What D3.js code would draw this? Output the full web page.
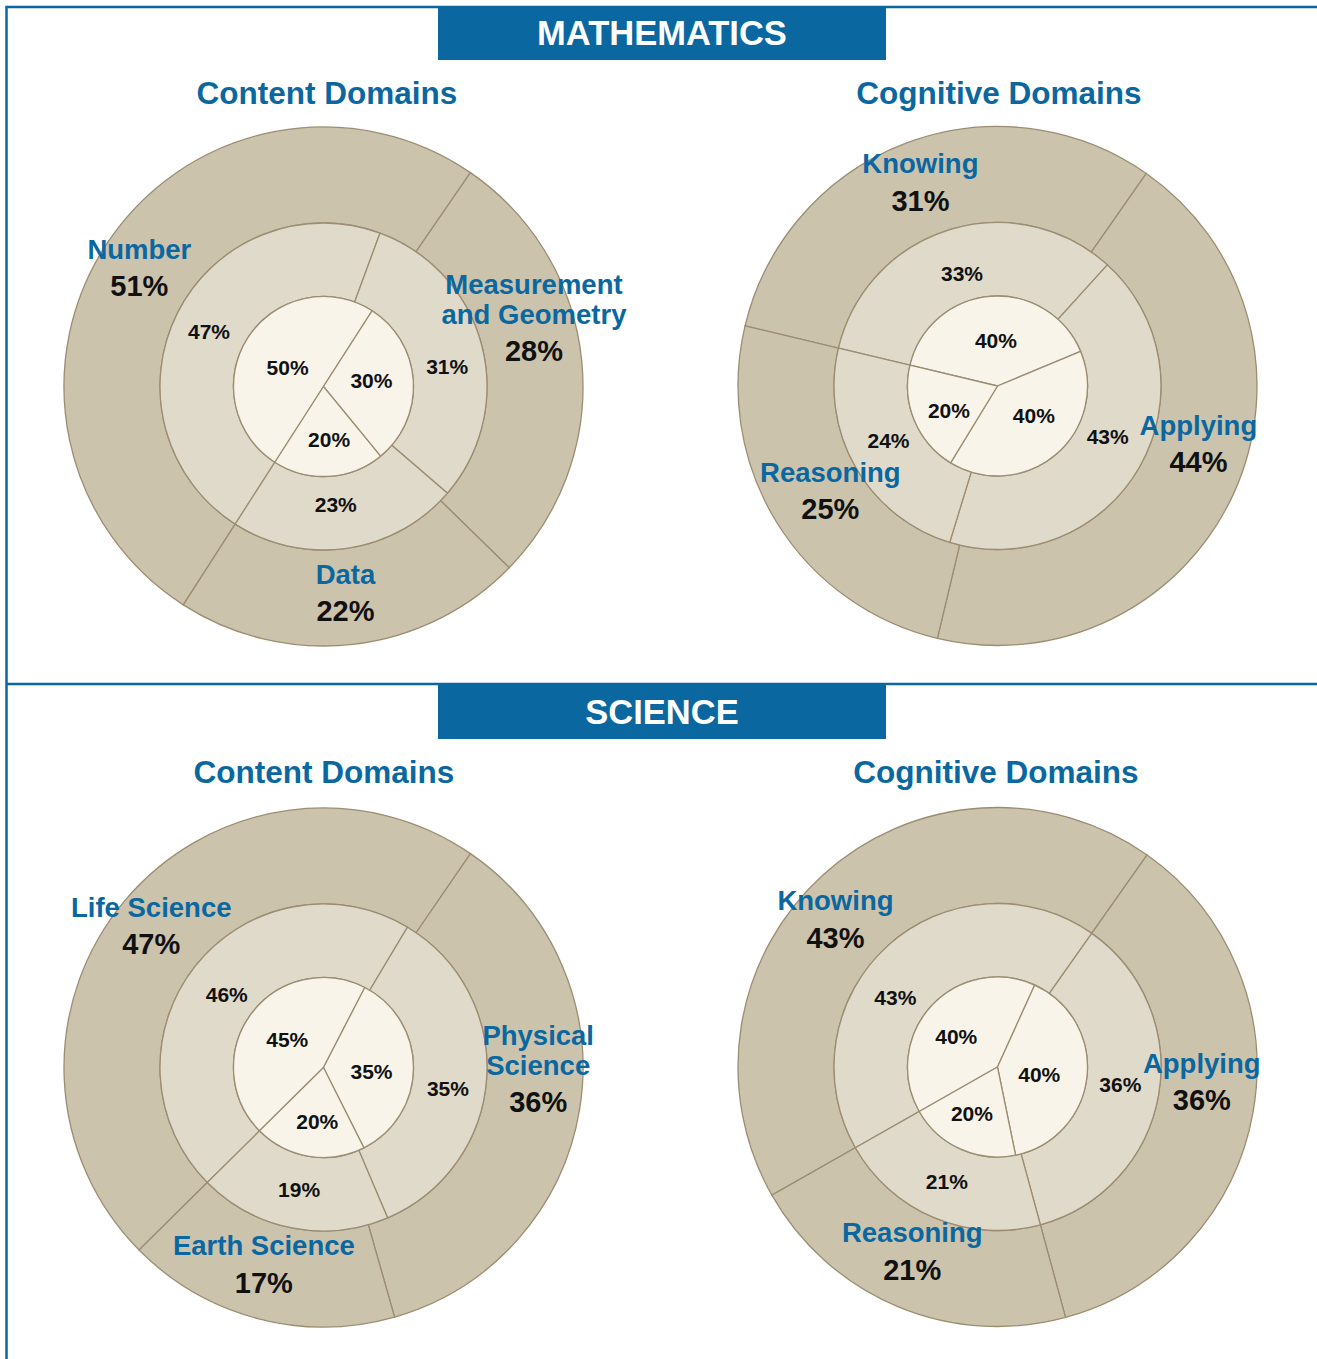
<!DOCTYPE html>
<html>
<head>
<meta charset="utf-8">
<style>
body { margin: 0; background: #fff; }
svg { display: block; font-family: "Liberation Sans", Arial, sans-serif; font-weight: bold; }
.ring path { stroke: #9b8d71; stroke-width: 1.3px; }
.name { fill: #0a67a0; }
.pct { fill: #111; }
</style>
</head>
<body>
<svg width="1317" height="1359"></svg>

<script src="https://cdn.jsdelivr.net/npm/d3@7"></script>
<script>
// values (outer ring, middle ring, inner pie)
var mathContentCats = ["Number", "Measurement\nand Geometry", "Data"];
var mathContentOuter = [51, 28, 22];
var mathContentMiddle = [47, 31, 23];
var mathContentInner = [50, 30, 20];

var mathCognitiveCats = ["Knowing", "Applying", "Reasoning"];
var mathCognitiveOuter = [31, 44, 25];
var mathCognitiveMiddle = [33, 43, 24];
var mathCognitiveInner = [40, 40, 20];

var sciContentCats = ["Life Science", "Physical\nScience", "Earth Science"];
var sciContentOuter = [47, 36, 17];
var sciContentMiddle = [46, 35, 19];
var sciContentInner = [45, 35, 20];

var sciCognitiveCats = ["Knowing", "Applying", "Reasoning"];
var sciCognitiveOuter = [43, 36, 21];
var sciCognitiveMiddle = [43, 36, 21];
var sciCognitiveInner = [40, 40, 20];

var sections = ["MATHEMATICS", "SCIENCE"];
var chartTitles = ["Content Domains", "Cognitive Domains"];

var svg = d3.select("svg"),
    width = +svg.attr("width"),
    height = +svg.attr("height");

var blue = "#0a67a0";
var ringColors = ["#ccc3ad", "#e0dacb", "#f8f4ea"];
var rOuter = 259.5, rMiddle = 163.5, rInner = 90;

// layout per chart; nudge = label offsets from the arc centroid, per ring
var charts = [
  { cats: mathContentCats, rings: [mathContentOuter, mathContentMiddle, mathContentInner],
    cx: 323.5, cy: 386.5, start: 212.7, title: chartTitles[0], tx: 327, ty: 93,
    nudge: [[[-8, -2], [0, -48], [-2, -4]],
            [[-1, 1], [1, 12], [-6, -7]],
            [[2, 5], [3, -3], [3, 8]]] },
  { cats: mathCognitiveCats, rings: [mathCognitiveOuter, mathCognitiveMiddle, mathCognitiveInner],
    cx: 997.5, cy: 386, start: 283.4, title: chartTitles[1], tx: 999, ty: 93,
    nudge: [[[-2, -6], [8, -29], [13, -6]],
            [[2, 9], [0, -12], [1, -8]],
            [[2, -1], [7, -5], [-7, 7]]] },
  { cats: sciContentCats, rings: [sciContentOuter, sciContentMiddle, sciContentInner],
    cx: 323.5, cy: 1067.5, start: 225.3, title: chartTitles[0], tx: 324, ty: 772,
    nudge: [[[-10, -6], [6, -33], [-6, -8]],
            [[3, 5], [-2, 12], [0, -2]],
            [[0, -1], [3, 4], [1, 10]]] },
  { cats: sciCognitiveCats, rings: [sciCognitiveOuter, sciCognitiveMiddle, sciCognitiveInner],
    cx: 997.5, cy: 1067, start: 240.4, title: chartTitles[1], tx: 996, ty: 772,
    nudge: [[[-20, 9], [-4, -22], [-4, -11]],
            [[-17, 24], [-2, -5], [-2, -3]],
            [[-8, 0], [-3, 2], [-7, 6]]] }
];

// frame
svg.append("path")
    .attr("d", "M" + width + ",7H6.5V" + height)
    .attr("fill", "none")
    .attr("stroke", blue)
    .attr("stroke-width", 2.5);
svg.append("line")
    .attr("x1", 6.5).attr("x2", width)
    .attr("y1", 684).attr("y2", 684)
    .attr("stroke", blue)
    .attr("stroke-width", 2.5);

// section headers
var headerY = [6, 685];
sections.forEach(function(s, i) {
  svg.append("rect")
      .attr("x", 438).attr("y", headerY[i])
      .attr("width", 448).attr("height", 54)
      .attr("fill", blue);
  svg.append("text")
      .attr("x", 662).attr("y", headerY[i] + 27)
      .attr("text-anchor", "middle")
      .attr("dominant-baseline", "central")
      .attr("fill", "#fff")
      .style("font-size", "34.5px")
      .text(s);
});

var rad = Math.PI / 180;
var radii = [[rMiddle, rOuter], [rInner, rMiddle], [0, rInner]];

charts.forEach(function(c) {
  svg.append("text")
      .attr("x", c.tx).attr("y", c.ty)
      .attr("text-anchor", "middle")
      .attr("dominant-baseline", "central")
      .attr("fill", blue)
      .style("font-size", "31.5px")
      .text(c.title);

  var g = svg.append("g")
      .attr("transform", "translate(" + c.cx + "," + c.cy + ")");

  var pie = d3.pie()
      .sort(null)
      .startAngle(c.start * rad)
      .endAngle(c.start * rad + 2 * Math.PI);

  c.rings.forEach(function(values, ri) {
    var arc = d3.arc().innerRadius(radii[ri][0]).outerRadius(radii[ri][1]);
    var arcs = pie(values);

    g.append("g")
        .attr("class", "ring")
      .selectAll("path")
      .data(arcs)
      .enter().append("path")
        .attr("fill", ringColors[ri])
        .attr("d", arc);

    if (ri == 0) return; // outer ring labelled below, with category names

    g.append("g")
      .selectAll("text")
      .data(arcs)
      .enter().append("text")
        .attr("class", "pct")
        .attr("transform", function(d, i) {
          var p = arc.centroid(d), n = c.nudge[ri][i];
          return "translate(" + (p[0] + n[0]) + "," + (p[1] + n[1]) + ")";
        })
        .attr("text-anchor", "middle")
        .attr("dominant-baseline", "central")
        .style("font-size", "21px")
        .text(function(d) { return d.value + "%"; });
  });

  // outer ring labels: blue category name over black percentage
  var outerArc = d3.arc().innerRadius(rMiddle).outerRadius(rOuter);
  pie(c.rings[0]).forEach(function(d, i) {
    var p = outerArc.centroid(d);
    var x = p[0] + c.nudge[0][i][0], y = p[1] + c.nudge[0][i][1];
    var lines = c.cats[i].split("\n");
    var blockH = (lines.length - 1) * 30 + 37;
    var top = y - blockH / 2;

    var t = g.append("g");
    lines.forEach(function(l, j) {
      t.append("text")
          .attr("class", "name")
          .attr("x", x).attr("y", top + j * 30)
          .attr("text-anchor", "middle")
          .attr("dominant-baseline", "central")
          .style("font-size", "27.5px")
          .text(l);
    });
    t.append("text")
        .attr("class", "pct")
        .attr("x", x).attr("y", top + blockH)
        .attr("text-anchor", "middle")
        .attr("dominant-baseline", "central")
        .style("font-size", "29px")
        .text(d.value + "%");
  });
});
</script>
</body>
</html>
